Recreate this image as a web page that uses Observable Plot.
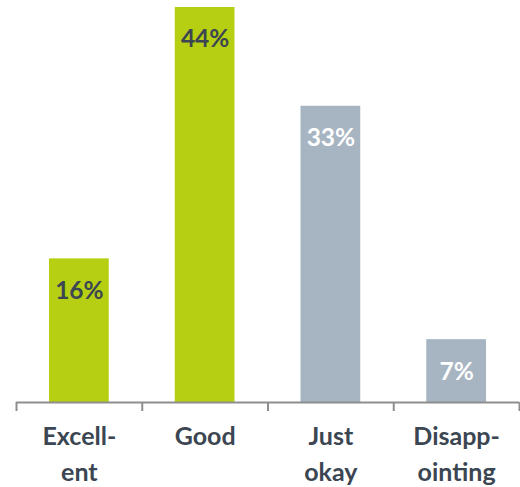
<!DOCTYPE html>
<html>
<head>
<meta charset="utf-8">
<script src="https://cdn.jsdelivr.net/npm/d3@7"></script>
<script src="https://cdn.jsdelivr.net/npm/@observablehq/plot@0.6"></script>
<style>
  html, body { margin: 0; padding: 0; background: #fff; }
</style>
</head>
<body>
<div id="chart"></div>
<script>
const categories = ["Excellent", "Good", "Just okay", "Disappointing"];
const tickLabels = ["Excell-\nent", "Good", "Just\nokay", "Disapp-\nointing"];
const values = [16, 44, 33, 7];
const barColors = ["#b7cf12", "#b7cf12", "#a7b5c2", "#a7b5c2"];
const labelColors = ["#3b4652", "#3b4652", "#ffffff", "#ffffff"];

const data = categories.map((c, i) => ({
  category: c, value: values[i], bar: barColors[i], label: labelColors[i]
}));

const width = 520, height = 487;
const marginLeft = 16, marginRight = 1, marginTop = 7, marginBottom = 85;
const bw = (width - marginLeft - marginRight) / categories.length;
const font = "Lato, 'Open Sans', sans-serif";
const textDark = "#3b4652";
const axisGray = "#8e8e8e";

const chart = Plot.plot({
  width, height, marginLeft, marginRight, marginTop, marginBottom,
  style: { fontFamily: font, background: "#fff" },
  x: { domain: categories, padding: 0, round: false, label: null },
  y: { domain: [0, 44], axis: null },
  marks: [
    Plot.barY(data, {
      x: "category", y: "value", fill: "bar",
      insetLeft: 33, insetRight: 33
    }),
    Plot.ruleY([0], { stroke: axisGray, strokeWidth: 2 }),
    Plot.ruleX(data, {
      x: "category", y1: 0, y2: 0, dx: -bw / 2,
      insetBottom: -9, stroke: axisGray, strokeWidth: 2
    }),
    Plot.ruleX(data.slice(-1), {
      x: "category", y1: 0, y2: 0, dx: bw / 2,
      insetBottom: -9, stroke: axisGray, strokeWidth: 2
    }),
    Plot.text(data, {
      x: "category", y: "value", text: d => d.value + "%",
      dy: 32, fill: "label", fontSize: 24.5, fontWeight: "bold"
    }),
    Plot.axisX({
      tickSize: 0, tickPadding: 17,
      tickFormat: (d) => tickLabels[categories.indexOf(d)],
      fontSize: 25, fontWeight: "bold", fill: textDark,
      lineHeight: 1.43, label: null
    })
  ]
});

document.getElementById("chart").append(chart);
</script>
</body>
</html>
